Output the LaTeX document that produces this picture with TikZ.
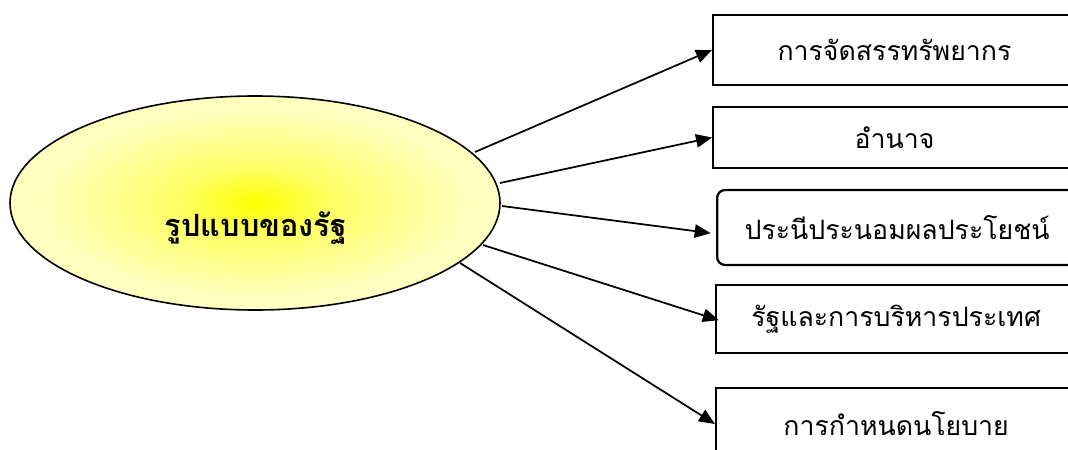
\documentclass[tikz,border=0pt]{standalone}
\usepackage{fontspec}
\newfontfamily\thaifont[Script=Thai]{Loma}
\usetikzlibrary{arrows.meta}
\pgfdeclareradialshading{glow}{\pgfpoint{0bp}{0bp}}{color(0bp)=(yellow);
  color(8bp)=(yellow!60); color(22bp)=(yellow!25); color(50bp)=(yellow!25)}
\begin{document}
\begin{tikzpicture}[x=0.75pt,y=-0.75pt,
  item/.style={draw,line width=1.7pt,anchor=west,minimum width=272pt,
    inner sep=0pt,font=\thaifont\fontsize{20pt}{24pt}\selectfont},
  link/.style={line width=1.3pt,-{Triangle[length=12pt,width=10pt]}}
]
\useasboundingbox (0,0) rectangle (1068,450);
\clip (0,0) rectangle (1068,450);
\path[draw,line width=1.2pt,shading=glow]
  (255,203) ellipse [x radius=245,y radius=107];
\node[font=\thaifont\bfseries\fontsize{23pt}{28pt}\selectfont] (title) at (256,228) {รูปแบบของรัฐ};
\node[item,minimum height=52.5pt] (alloc) at (712,50) {การจัดสรรทรัพยากร};
\node[item,minimum height=45.75pt] (power) at (712,137.5) {อำนาจ};
\node[item,minimum height=56.25pt,minimum width=270pt,rounded corners=6pt] (compromise) at (716,227.5) {ประนีประนอมผลประโยชน์};
\node[item,minimum height=51pt,minimum width=270pt] (admin) at (715,319) {รัฐและการบริหารประเทศ};
\node[item,minimum height=54pt,minimum width=270pt] (policy) at (715,424) {การกำหนดนโยบาย};
\draw[link] (475,152) -- (alloc.west);
\draw[link] (500,183) -- (power.west);
\draw[link,shorten >=4pt] (502,206) -- (compromise.182);
\draw[link,shorten >=-3pt] (483,245) -- (admin.west);
\draw[link] (460,263) -- (policy.west);
\end{tikzpicture}
\end{document}
